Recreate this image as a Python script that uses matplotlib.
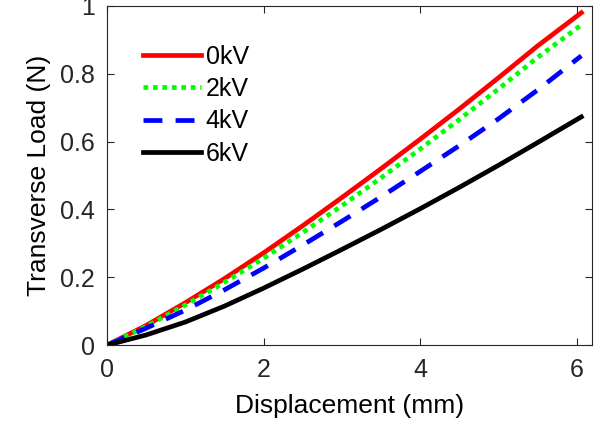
import matplotlib
matplotlib.use('Agg')
import matplotlib.pyplot as plt

plt.rcParams['font.family'] = ['Liberation Sans', 'DejaVu Sans']

# displacement (mm) and transverse load (N) for each applied voltage
disp = [0, 0.5, 1, 1.5, 2, 2.5, 3, 3.5, 4, 4.5, 5, 5.5, 6.06]
load_0kv = [0, 0.058, 0.125, 0.196, 0.272, 0.352, 0.435, 0.52, 0.607, 0.696, 0.788, 0.882, 0.98]
load_2kv = [0, 0.055, 0.118, 0.185, 0.256, 0.332, 0.411, 0.493, 0.578, 0.665, 0.755, 0.848, 0.944]
load_4kv = [0, 0.05, 0.103, 0.163, 0.227, 0.295, 0.365, 0.437, 0.512, 0.588, 0.667, 0.752, 0.853]
load_6kv = [0, 0.03, 0.068, 0.115, 0.168, 0.224, 0.282, 0.341, 0.402, 0.465, 0.53, 0.597, 0.673]
labels = ['0kV', '2kV', '4kV', '6kV']

axcol = '#262626'
fig = plt.figure(figsize=(6.05, 4.25), dpi=100)
ax = fig.add_axes([0.177, 0.188, 0.802, 0.798])

ax.plot(disp, load_0kv, color='#ff0000', lw=3.4, label=labels[0])
ax.plot(disp, load_2kv, color='#00ff00', lw=3.4, linestyle=(0, (1, 1)), label=labels[1])
ax.plot(disp, load_4kv, color='#0000ff', lw=3.4, linestyle=(0, (4, 2.8)), label=labels[2])
ax.plot(disp, load_6kv, color='#000000', lw=3.4, label=labels[3])

ax.set_xlim(0, 6.2)
ax.set_ylim(0, 1)
ax.set_xticks([0, 2, 4, 6])
ax.set_yticks([0, 0.2, 0.4, 0.6, 0.8, 1])
ax.set_yticklabels(['0', '0.2', '0.4', '0.6', '0.8', '1'])

for s in ax.spines.values():
    s.set_color(axcol)
    s.set_linewidth(0.8)
ax.tick_params(direction='in', length=5, width=0.8, colors=axcol, labelsize=18,
               top=True, right=True, pad=9)
ax.set_xlabel('Displacement (mm)', fontsize=19, color='black', labelpad=9)
ax.set_ylabel('Transverse Load (N)', fontsize=19, color='black', labelpad=6)

leg = ax.legend(loc='upper left', bbox_to_anchor=(0.054, 0.915), frameon=False,
                fontsize=18, handlelength=2.3, handletextpad=0.2, labelspacing=0.33,
                borderaxespad=0)

fig.savefig('out.png', dpi=100)
